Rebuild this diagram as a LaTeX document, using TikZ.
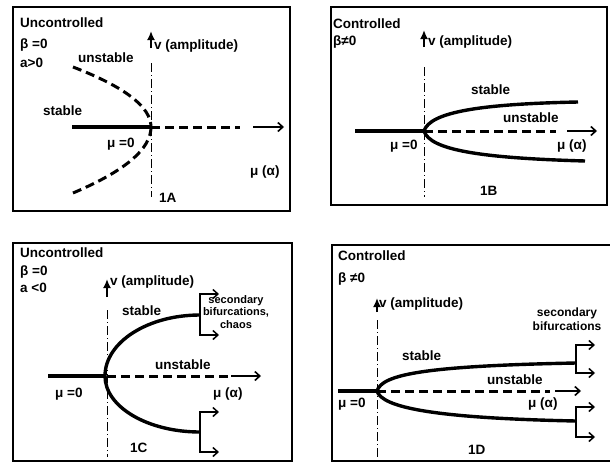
\documentclass[tikz,border=0pt]{standalone}
\usepackage{fontspec}
\setmainfont{Liberation Sans}
\usetikzlibrary{arrows.meta}
\begin{document}
\begin{tikzpicture}[x=1pt,y=-1pt,
 lbl/.style={font=\bfseries\fontsize{13.5}{14}\selectfont, anchor=mid west, inner sep=0pt},
 small/.style={font=\bfseries\fontsize{11}{12.5}\selectfont, align=center, inner sep=0pt},
 frame/.style={line width=1.8pt},
 stab/.style={line width=3.4pt},
 unst/.style={line width=3pt, dash pattern=on 9pt off 5pt},
 axisline/.style={line width=1pt, dash pattern=on 9pt off 3pt on 1pt off 3pt},
 vaxis/.style={line width=2.4pt, -{Latex[length=9pt,width=8pt]}},
 haxis/.style={line width=1.6pt, -{Straight Barb[length=5pt,width=9pt]}},
 branch/.style={line width=1.5pt, {Straight Barb[length=5pt,width=9pt]}-{Straight Barb[length=5pt,width=9pt]}},
]
\useasboundingbox (0,0) rectangle (610,463);
\fill[white] (0,0) rectangle (610,463);

% ---------- frames ----------
\draw[frame] (13,7) rectangle (290,211);
\draw[frame] (331,7) rectangle (607,205);
\draw[frame] (13,243) rectangle (292,461);
\draw[frame] (332,245) rectangle (620,461);

% ================= 1A =================
\coordinate (oA) at (151,127);
\draw[axisline] (151,63) -- (151,197);
\draw[vaxis] (151,48) -- (151,31);
\draw[stab] (72,127) -- (oA);
\draw[unst] (oA) -- (240,127);
\draw[haxis] (253,127) -- (284,127);
\draw[unst] (73,67) .. controls (125,87) and (151,107) .. (oA);
\draw[unst] (oA) .. controls (151,149) and (125,171) .. (73,193);
\node[lbl] (tA1) at (20,25) {Uncontrolled};
\node[lbl] (tA2) at (20,46) {β =0};
\node[lbl] (tA3) at (20,65) {a>0};
\node[lbl] (tA4) at (154,47) {v (amplitude)};
\node[lbl] (tA5) at (78,60) {unstable};
\node[lbl] (tA6) at (43,113) {stable};
\node[lbl] (tA7) at (107,145) {μ =0};
\node[lbl] (tA8) at (250,173) {μ (α)};
\node[lbl] (tA9) at (159,200) {1A};

% ================= 1B =================
\coordinate (oB) at (424,131);
\draw[axisline] (424,67) -- (424,197);
\draw[vaxis] (424,47) -- (424,30);
\draw[stab] (355,131) -- (oB);
\draw[unst] (oB) -- (556,131);
\draw[haxis] (567,131) -- (597,131);
\draw[stab] (oB) .. controls (430,112) and (480,104) .. (578,102);
\draw[stab] (oB) .. controls (430,150) and (480,158) .. (585,161);
\node[lbl] (tB1) at (333,26) {Controlled};
\node[lbl] (tB2) at (333,43) {β≠0};
\node[lbl] (tB3) at (428,43) {v (amplitude)};
\node[lbl] (tB4) at (471,92) {stable};
\node[lbl] (tB5) at (503,120) {unstable};
\node[lbl] (tB6) at (390,147) {μ =0};
\node[lbl] (tB7) at (557,147) {μ (α)};
\node[lbl] (tB8) at (480,193) {1B};

% ================= 1C =================
\coordinate (oC) at (105,376);
\draw[axisline] (107,310) -- (107,457);
\draw[vaxis] (107,297) -- (107,279);
\draw[stab] (48,376) -- (oC);
\draw[unst] (107,376) -- (230,376);
\draw[haxis] (231,376) -- (261,376);
\draw[stab] (oC) arc[start angle=180, end angle=270, x radius=95, y radius=61] coordinate (eC1);
\draw[stab] (oC) arc[start angle=180, end angle=90, x radius=95, y radius=56] coordinate (eC2);
\draw[branch] (219,294) -- (200,294) -- (200,335) -- (219,335);
\draw[branch] (219,412) -- (200,412) -- (200,452) -- (219,452);
\node[lbl] (tC1) at (20,255) {Uncontrolled};
\node[lbl] (tC2) at (20,273) {β =0};
\node[lbl] (tC3) at (20,290) {a <0};
\node[lbl] (tC4) at (110,283) {v (amplitude)};
\node[lbl] (tC5) at (122,313) {stable};
\node[lbl] (tC6) at (155,367) {unstable};
\node[lbl] (tC7) at (55,395) {μ =0};
\node[lbl] (tC8) at (213,395) {μ (α)};
\node[lbl] (tC9) at (130,450) {1C};
\node[small] (tC10) at (236,312) {secondary\\bifurcations,\\chaos};

% ================= 1D =================
\coordinate (oD) at (377,391);
\draw[axisline] (377,320) -- (377,463);
\draw[vaxis] (377,312) -- (377,298);
\draw[stab] (338,391) -- (oD);
\draw[unst] (oD) -- (550,391);
\draw[haxis] (555,391) -- (581,391);
\draw[stab] (oD) .. controls (382,375) and (420,366) .. (576,363);
\draw[stab] (oD) .. controls (382,407) and (430,418) .. (576,421);
\draw[branch] (595,345) -- (576,345) -- (576,373) -- (595,373);
\draw[branch] (595,407) -- (576,407) -- (576,437) -- (595,437);
\node[lbl] (tD1) at (338,258) {Controlled};
\node[lbl] (tD2) at (338,280) {β ≠0};
\node[lbl] (tD3) at (379,305) {v (amplitude)};
\node[lbl] (tD4) at (402,358) {stable};
\node[lbl] (tD5) at (487,382) {unstable};
\node[lbl] (tD6) at (338,405) {μ =0};
\node[lbl] (tD7) at (528,405) {μ (α)};
\node[lbl] (tD8) at (468,452) {1D};
\node[small, font=\bfseries\fontsize{12}{14}\selectfont] (tD9) at (567,319) {secondary\\bifurcations};
\end{tikzpicture}
\end{document}
